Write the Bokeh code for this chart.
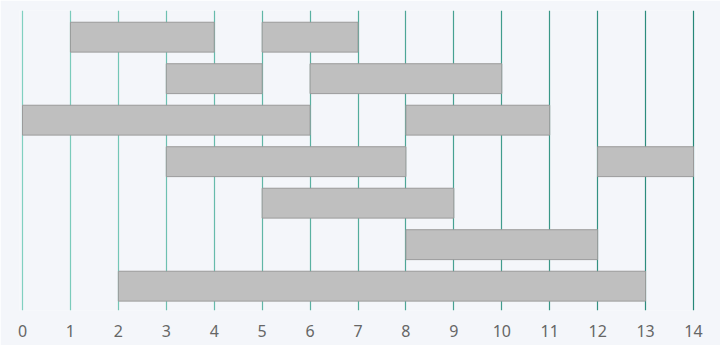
from bokeh.plotting import figure
from bokeh.models import Range1d, FixedTicker, Grid
from bokeh.embed import file_html
from bokeh.resources import INLINE

# data
rows = [0, 0, 1, 1, 2, 2, 3, 3, 4, 5, 6]
starts = [1, 5, 3, 6, 0, 8, 3, 12, 5, 8, 2]
ends = [4, 7, 5, 10, 6, 11, 8, 14, 9, 12, 13]
x_ticks = list(range(0, 15))

BG = "#f4f6fa"

pad = 3 / 47.93
p = figure(width=720, height=345, output_backend="svg", toolbar_location=None,
           x_range=Range1d(-pad, 14 + pad), y_range=Range1d(6.586, -0.643),
           min_border_left=19, min_border_right=24, min_border_top=10,
           min_border_bottom=35, background_fill_color=BG,
           border_fill_color=BG, outline_line_color=None)

p.xgrid.visible = False
p.ygrid.visible = False
p.yaxis.visible = False

# per-line gradient grid colours
c0 = (128, 208, 192)
c1 = (38, 135, 120)
for t in x_ticks:
    f = t / 14
    col = "#%02x%02x%02x" % tuple(int(round(a + (b - a) * f)) for a, b in zip(c0, c1))
    g = Grid(dimension=0, ticker=FixedTicker(ticks=[t]), grid_line_color=col,
             grid_line_width=1.2)
    p.add_layout(g)

p.hbar(y=rows, left=starts, right=ends, height=0.72,
       fill_color="#bfbfbf", line_color="#9a9a9a", line_width=1)

ax = p.xaxis[0]
ax.ticker = FixedTicker(ticks=x_ticks)
ax.axis_line_color = None
ax.major_tick_line_color = None
ax.minor_tick_line_color = None
ax.major_label_text_font = "Noto Sans"
ax.major_label_text_font_size = "16px"
ax.major_label_text_color = "#666666"
ax.major_label_standoff = 8

open("out.html", "w").write(file_html(p, INLINE))
